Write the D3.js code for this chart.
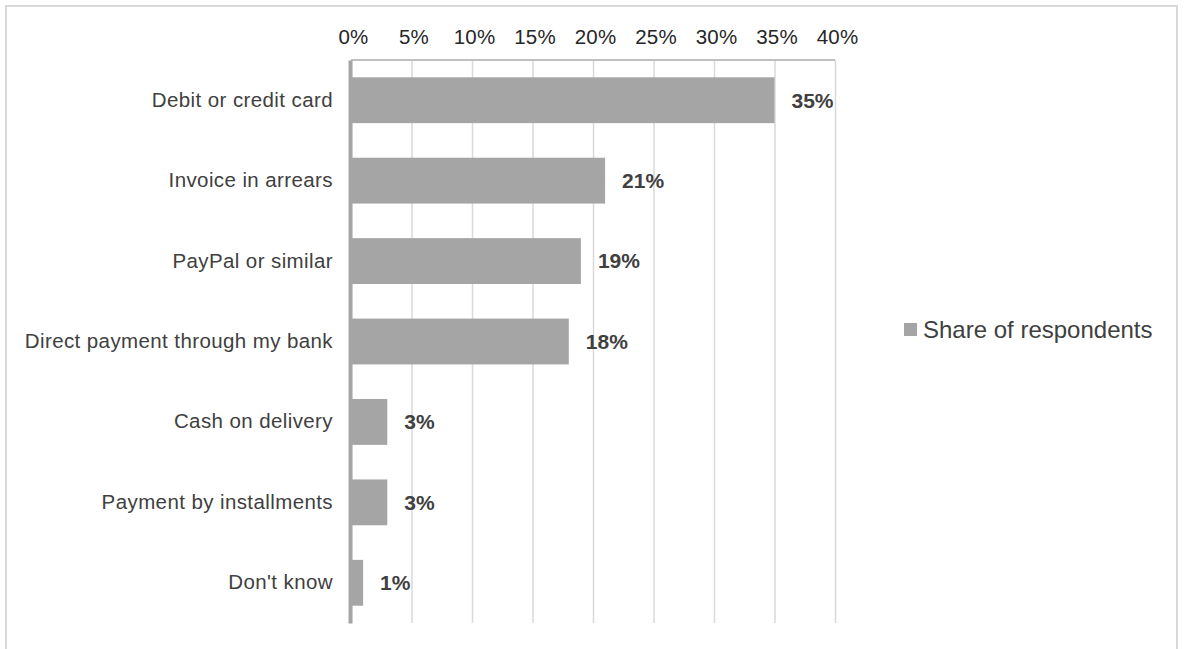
<!DOCTYPE html>
<html>
<head>
<meta charset="utf-8">
<script src="https://cdn.jsdelivr.net/npm/d3@7"></script>
<style>
  html, body { margin: 0; padding: 0; background: #fff; }
  svg { display: block; font-family: "Liberation Sans", Arial, sans-serif; }
</style>
</head>
<body>
<svg id="chart" width="1186" height="649"></svg>
<script>
// chart values
const categories = [
  "Debit or credit card",
  "Invoice in arrears",
  "PayPal or similar",
  "Direct payment through my bank",
  "Cash on delivery",
  "Payment by installments",
  "Don't know"
];
const shares = [35, 21, 19, 18, 3, 3, 1];
const tickValues = [0, 5, 10, 15, 20, 25, 30, 35, 40];
const seriesName = "Share of respondents";

const svg = d3.select("#chart");
const plot = { left: 351, right: 835, top: 60, bottom: 623 };

// outer frame (bottom edge is off-picture)
svg.append("rect")
  .attr("x", 6).attr("y", 6)
  .attr("width", 1171).attr("height", 680)
  .attr("fill", "none")
  .attr("stroke", "#d9d9d9")
  .attr("stroke-width", 2);

const x = d3.scaleLinear().domain([0, 40]).range([plot.left, plot.right]);
const y = d3.scaleBand()
  .domain(categories)
  .range([plot.top, plot.bottom])
  .paddingInner(0.43)
  .paddingOuter(0.215);

// gridlines
const grid = svg.append("g")
  .attr("transform", `translate(0,${plot.top})`)
  .call(d3.axisTop(x).tickValues(tickValues).tickSize(-(plot.bottom - plot.top)).tickFormat(""));
grid.select(".domain").remove();
grid.selectAll(".tick line").attr("stroke", "#d9d9d9").attr("stroke-width", 1.5);

// top line of plot
svg.append("line")
  .attr("x1", plot.left).attr("x2", plot.right)
  .attr("y1", plot.top).attr("y2", plot.top)
  .attr("stroke", "#bfbfbf").attr("stroke-width", 2);

// top axis labels
const xAxis = svg.append("g")
  .attr("transform", `translate(2,${plot.top})`)
  .call(d3.axisTop(x).tickValues(tickValues).tickSize(0).tickPadding(16).tickFormat(d => d + "%"));
xAxis.select(".domain").remove();
xAxis.selectAll("text")
  .attr("fill", "#262626")
  .style("font-size", "20.5px")
  .style("letter-spacing", "0.2px");

// bars
svg.append("g").selectAll("rect")
  .data(categories)
  .join("rect")
  .attr("x", x(0))
  .attr("y", d => y(d))
  .attr("width", (d, i) => x(shares[i]) - x(0))
  .attr("height", y.bandwidth())
  .attr("fill", "#a5a5a5");

// value labels
svg.append("g").selectAll("text")
  .data(categories)
  .join("text")
  .attr("x", (d, i) => x(shares[i]) + 17)
  .attr("y", d => y(d) + y.bandwidth() / 2)
  .attr("dy", "0.35em")
  .attr("fill", "#404040")
  .style("font-size", "21px")
  .style("font-weight", "bold")
  .text((d, i) => shares[i] + "%");

// category axis
const yAxis = svg.append("g")
  .attr("transform", `translate(${plot.left - 1},0)`)
  .call(d3.axisLeft(y).tickSize(0).tickPadding(17));
yAxis.select(".domain")
  .attr("stroke", "#a5a5a5")
  .attr("stroke-width", 4);
yAxis.selectAll("text")
  .attr("fill", "#404040")
  .style("font-size", "20.5px")
  .style("letter-spacing", "0.4px");

// legend
const legend = svg.append("g").attr("transform", "translate(904,330)");
legend.append("rect")
  .attr("x", 0).attr("y", -7)
  .attr("width", 13).attr("height", 13)
  .attr("fill", "#a5a5a5");
legend.append("text")
  .attr("x", 19).attr("y", 0)
  .attr("dy", "0.35em")
  .attr("fill", "#404040")
  .style("font-size", "24px")
  .text(seriesName);
</script>
</body>
</html>
